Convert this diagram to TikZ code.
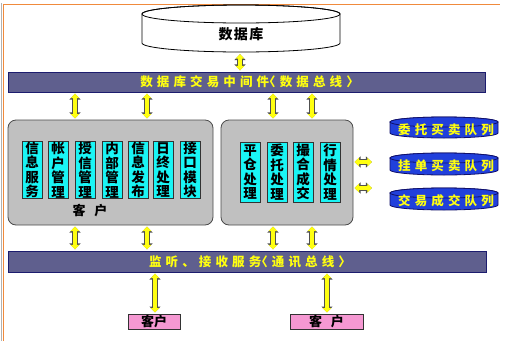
\documentclass[tikz,border=0pt]{standalone}
\usepackage{fontspec}
\usepackage{xcolor}
\usepackage{tikz}
\usetikzlibrary{arrows.meta,positioning}
\newfontfamily\cjk{Noto Sans CJK SC}
\newcommand{\lbr}{\kern-6pt〈}
\newcommand{\rbr}{〉\kern-6pt}
\definecolor{busfill}{HTML}{5F5F8E}
\definecolor{busedge}{HTML}{1C1C6E}
\definecolor{boxfill}{HTML}{C0C0C0}
\definecolor{boxedge}{HTML}{4A4A4A}
\definecolor{stripfill}{HTML}{1AF5F5}
\definecolor{queuefill}{HTML}{2140DC}
\definecolor{queueedge}{HTML}{10106A}
\definecolor{clientfill}{HTML}{F598D2}
\definecolor{linkfill}{HTML}{FFFF10}
\definecolor{linkedge}{HTML}{505050}
\definecolor{frameorange}{HTML}{F08A3C}

\begin{document}
\begin{tikzpicture}[
  x=1pt,
  y=-1pt,
  bus/.style={draw=busedge, fill=busfill, line width=1pt, minimum width=477pt, minimum height=20pt, inner sep=0pt,
    text=linkfill, font=\cjk\bfseries\fontsize{12.5}{14}\selectfont\addfontfeature{LetterSpace=33}},
  module/.style={draw=boxedge, fill=boxfill, line width=0.8pt, rounded corners=8pt, minimum height=105pt, inner sep=0pt},
  strip/.style={draw=black!80, fill=stripfill, line width=0.6pt, minimum width=20pt, inner sep=0pt, align=center,
    font=\cjk\bfseries\fontsize{13.5}{14.5}\selectfont},
  queue/.style={draw=queueedge, fill=queuefill, line width=0.8pt},
  queuetext/.style={text=linkfill, font=\cjk\bfseries\fontsize{12.5}{14}\selectfont\addfontfeature{LetterSpace=33}},
  client/.style={draw=black!80, fill=clientfill, line width=0.6pt, minimum height=15pt, inner sep=0pt,
    font=\cjk\bfseries\fontsize{13}{14}\selectfont},
  plain/.style={font=\cjk\bfseries\fontsize{13}{14}\selectfont},
  link/.style={preaction={draw=linkedge, line width=5.4pt, {Triangle[width=11pt,length=6pt]}-{Triangle[width=11pt,length=6pt]}},
    draw=linkfill, line width=3.4pt, {Triangle[width=8.4pt,length=4.4pt]}-{Triangle[width=8.4pt,length=4.4pt]},
    shorten <=1.2pt, shorten >=1.2pt}
]
\useasboundingbox (0,0) rectangle (509,341);
% frame
\draw[black!30, line width=0.8pt] (1.5,341) -- (1.5,3);
\draw[frameorange, line width=1pt] (3.5,341) -- (3.5,4) -- (500,4);

% database
\draw[black, line width=0.8pt, fill=white] (142,14) -- (142,43) arc[start angle=180, end angle=360, x radius=99pt, y radius=9pt] -- (340,14) arc[start angle=0, end angle=180, x radius=99pt, y radius=9pt] -- cycle;
\draw[black, line width=0.8pt] (241,14) ellipse[x radius=99pt, y radius=9pt];
\node[plain, font=\cjk\bfseries\fontsize{14}{16}\selectfont\addfontfeature{LetterSpace=10}] (db) at (241,34) {数据库};
\coordinate (dbbase) at (240,53);

% buses
\node[bus] (bus1) at (246.5,82) {数据库交易中间件\lbr 数据总线\rbr};
\node[bus, minimum width=478pt, minimum height=21pt] (bus2) at (247,261.5) {监听、接收服务\lbr 通讯总线\rbr};

% client modules
\node[module, minimum width=205pt] (lbox) at (110.5,172.5) {};
\node[module, minimum width=132pt] (rbox) at (287,172.5) {};

\node[strip, minimum height=57pt] (s1) at (32,170) {信\\息\\服\\务};
\node[strip, minimum height=57pt] (s2) at (58,170) {帐\\户\\管\\理};
\node[strip, minimum height=57pt] (s3) at (85,170) {授\\信\\管\\理};
\node[strip, minimum height=57pt] (s4) at (112,170) {内\\部\\管\\理};
\node[strip, minimum height=57pt] (s5) at (138,170) {信\\息\\发\\布};
\node[strip, minimum height=57pt] (s6) at (163,170) {日\\终\\处\\理};
\node[strip, minimum height=57pt] (s7) at (190,170) {接\\口\\模\\块};
\node[plain] (ltitle) at (90,211) {客\hspace{9pt}户};

\node[strip, minimum height=60pt] (r1) at (250,172) {平\\仓\\处\\理};
\node[strip, minimum height=60pt] (r2) at (277,172) {委\\托\\处\\理};
\node[strip, minimum height=60pt] (r3) at (303,172) {撮\\合\\成\\交};
\node[strip, minimum height=60pt] (r4) at (330,172) {行\\情\\处\\理};

% queues
\draw[queue] (390,122) -- (390,133) arc[start angle=180, end angle=360, x radius=54pt, y radius=5pt] -- (498,122) arc[start angle=0, end angle=180, x radius=54pt, y radius=5pt] -- cycle;
\draw[queue] (444,122) ellipse[x radius=54pt, y radius=5pt];
\node[queuetext] (q1) at (446,129.5) {委托买卖队列};
\draw[queue] (390,158) -- (390,170) arc[start angle=180, end angle=360, x radius=54pt, y radius=5pt] -- (498,158) arc[start angle=0, end angle=180, x radius=54pt, y radius=5pt] -- cycle;
\draw[queue] (444,158) ellipse[x radius=54pt, y radius=5pt];
\node[queuetext] (q2) at (446,166) {挂单买卖队列};
\draw[queue] (390,193) -- (390,205) arc[start angle=180, end angle=360, x radius=54pt, y radius=5pt] -- (498,193) arc[start angle=0, end angle=180, x radius=54pt, y radius=5pt] -- cycle;
\draw[queue] (444,193) ellipse[x radius=54pt, y radius=5pt];
\node[queuetext] (q3) at (446,200.5) {交易成交队列};
\coordinate (qa1) at (373,162);
\coordinate (qa2) at (373,188);

% clients
\node[client, minimum width=52pt] (cl1) at (154,321.5) {客户};
\node[client, minimum width=73pt] (cl2) at (326.5,321.5) {客\hspace{9pt}户};

% links
\draw[link] (dbbase) -- (bus1.north -| dbbase);
\draw[link] (bus1.south -| 75,0) -- (lbox.north -| 75,0);
\draw[link] (bus1.south -| 147,0) -- (lbox.north -| 147,0);
\draw[link] (bus1.south -| 273,0) -- (rbox.north -| 273,0);
\draw[link] (bus1.south -| 312,0) -- (rbox.north -| 312,0);
\draw[link] (lbox.south -| 75,0) -- (bus2.north -| 75,0);
\draw[link] (lbox.south -| 147,0) -- (bus2.north -| 147,0);
\draw[link] (rbox.south -| 273,0) -- (bus2.north -| 273,0);
\draw[link] (rbox.south -| 312,0) -- (bus2.north -| 312,0);
\draw[link] (rbox.east |- qa1) -- (qa1);
\draw[link] (rbox.east |- qa2) -- (qa2);
\draw[link] (bus2.south -| 155,0) -- (cl1.north -| 155,0);
\draw[link] (bus2.south -| 327,0) -- (cl2.north -| 327,0);
\end{tikzpicture}
\end{document}
